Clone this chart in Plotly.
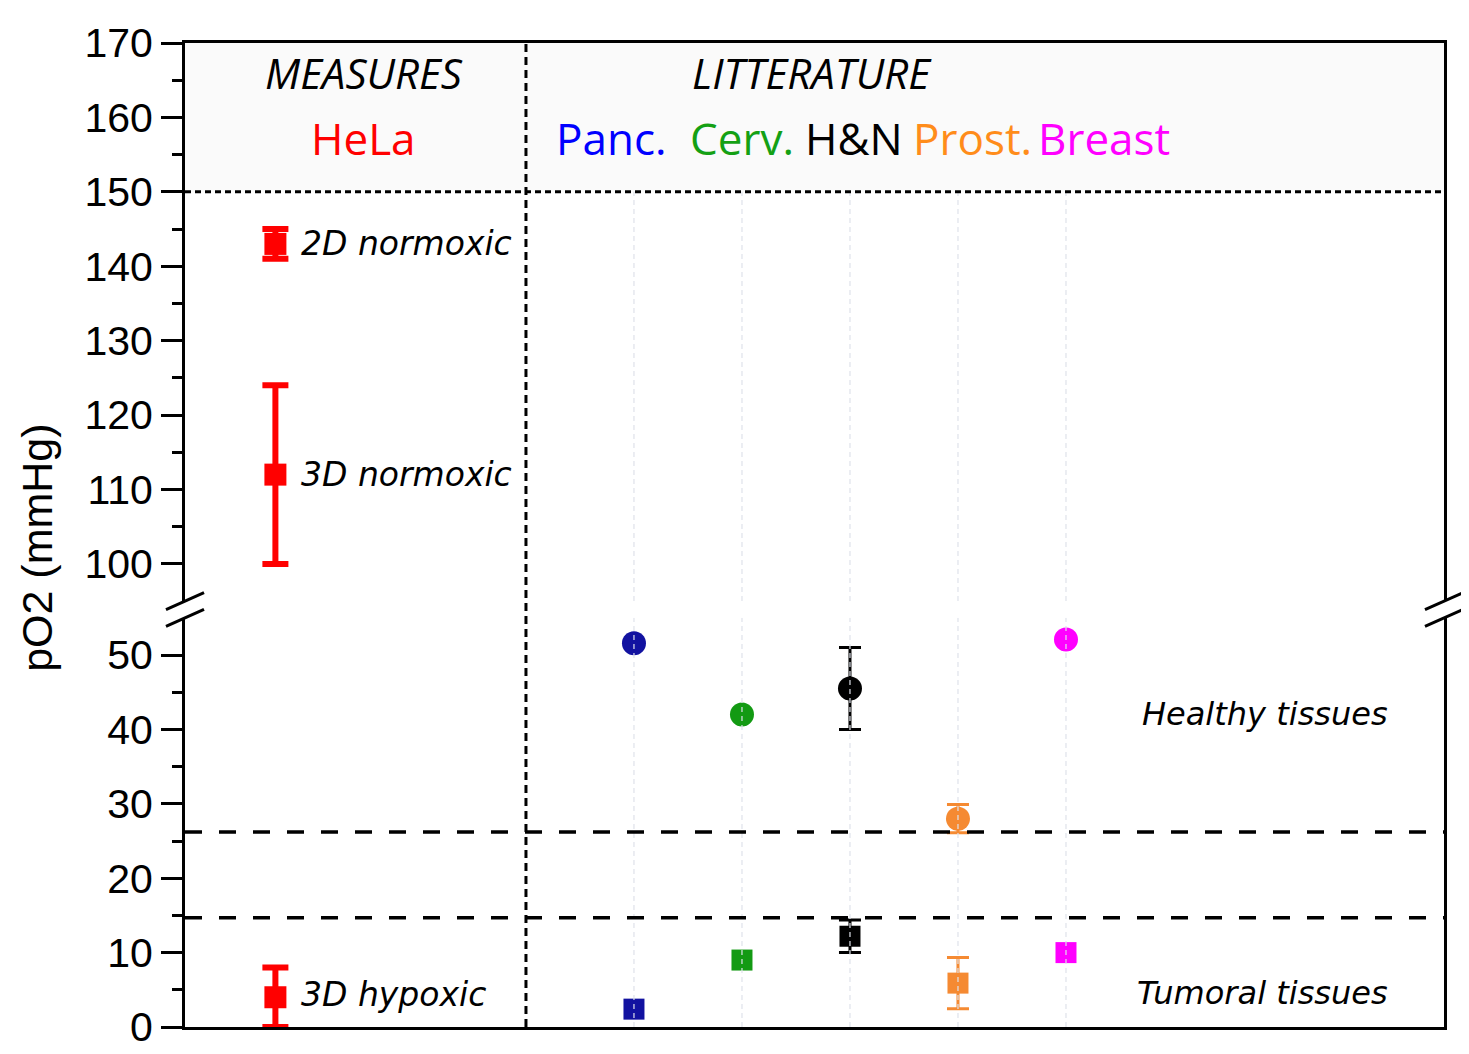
import plotly.graph_objects as go

# ---- data ----
hela_x = -2.32
hela_labels = ["2D normoxic", "3D normoxic", "3D hypoxic"]
hela_values = [143.0, 112.0, 4.0]
hela_errors = [2.0, 12.0, 4.0]

lit_names = ["Panc.", "Cerv.", "H&N", "Prost.", "Breast"]
lit_x = [1, 2, 3, 4, 5]
lit_colors = ["#1212a0", "#139a13", "#000000", "#f58a32", "#ff00ff"]
label_colors = ["#0000ff", "#14a014", "#000000", "#ff8c1a", "#ff00ff"]
healthy_values = [51.6, 42.0, 45.5, 28.0, 52.1]
healthy_errors = [0, 0, 5.5, 1.9, 0]
tumor_values = [2.4, 9.0, 12.2, 5.9, 10.0]
tumor_errors = [0, 0, 2.2, 3.45, 0]

hypoxia_limits = [26.2, 14.7]
upper_limit = 150

lower_ticks = [0, 10, 20, 30, 40, 50]
upper_ticks = [100, 110, 120, 130, 140, 150, 160, 170]

TICK_FONT = dict(family="Liberation Sans, Arial", size=41, color="black")
ITAL = "DejaVu Sans"
RED = "#ff0000"

fig = go.Figure()

# HeLa measures (two on the upper axis, one on the lower)
for lab, v, e in zip(hela_labels, hela_values, hela_errors):
    yax = "y2" if v > 60 else "y"
    fig.add_trace(go.Scatter(
        x=[hela_x], y=[v], yaxis=yax, xaxis="x2" if yax == "y2" else "x",
        mode="markers", marker=dict(symbol="square", size=22, color=RED),
        error_y=dict(type="data", array=[e], color=RED, thickness=6, width=13),
        showlegend=False, hoverinfo="skip",
    ))

# literature: healthy (circles) and tumoral (squares)
for i, name in enumerate(lit_names):
    for vals, errs, sym, size in ((healthy_values, healthy_errors, "circle", 24),
                                  (tumor_values, tumor_errors, "square", 21)):
        err = None
        if errs[i] > 0:
            err = dict(type="data", array=[errs[i]], color=lit_colors[i], thickness=3, width=11)
        fig.add_trace(go.Scatter(
            x=[lit_x[i]], y=[vals[i]], mode="markers",
            marker=dict(symbol=sym, size=size, color=lit_colors[i]),
            error_y=err, showlegend=False, hoverinfo="skip",
        ))

shapes = []
# light header band above 150
shapes.append(dict(type="rect", xref="paper", yref="y2", x0=0, x1=1, y0=upper_limit, y1=170,
                   fillcolor="#fafafa", line=dict(width=0), layer="below"))
# faint vertical guides at the literature positions
for xv in lit_x:
    for yref, y0, y1 in (("y", 0, 55), ("y2", 95, upper_limit)):
        shapes.append(dict(type="line", xref="x", yref=yref, x0=xv, x1=xv, y0=y0, y1=y1,
                           line=dict(color="#dfe2ea", width=1.2, dash="5px,4px"), layer="above"))
# dotted separators
shapes.append(dict(type="line", xref="paper", yref="y2", x0=0, x1=1, y0=upper_limit, y1=upper_limit,
                   line=dict(color="black", width=3, dash="6px,4px")))
shapes.append(dict(type="line", xref="x", yref="paper", x0=0, x1=0, y0=0, y1=1,
                   line=dict(color="black", width=3, dash="8px,5px")))
# dashed hypoxia limits
for h in hypoxia_limits:
    shapes.append(dict(type="line", xref="paper", yref="y", x0=0, x1=1, y0=h, y1=h,
                       line=dict(color="black", width=3.5, dash="17px,17px")))

# axis break marks
lo_top, up_bot = 0.4158, 0.4328
dx, dy = 0.0151, 0.0086
for cx in (0, 1):
    for cy in (lo_top, up_bot):
        shapes.append(dict(type="line", xref="paper", yref="paper",
                           x0=cx - dx, x1=cx + dx, y0=cy - dy, y1=cy + dy,
                           line=dict(color="black", width=3)))

annotations = [
    dict(text="<i>MEASURES</i>", x=-1.50, y=166.0, xref="x", yref="y2", showarrow=False,
         font=dict(family="Open Sans", size=42, color="black")),
    dict(text="<i>LITTERATURE</i>", x=2.648, y=166.0, xref="x", yref="y2", showarrow=False,
         font=dict(family="Open Sans", size=42, color="black")),
    dict(text="HeLa", x=-1.50, y=157.3, xref="x", yref="y2", showarrow=False,
         font=dict(family="Open Sans", size=44, color=RED)),
    dict(text="<i>Healthy tissues</i>", x=6.84, y=42.1, xref="x", yref="y", showarrow=False,
         font=dict(family=ITAL, size=32, color="black")),
    dict(text="<i>Tumoral tissues</i>", x=6.82, y=4.6, xref="x", yref="y", showarrow=False,
         font=dict(family=ITAL, size=32, color="black")),
    dict(text="pO2 (mmHg)", x=-0.1175, y=0.487, xref="paper", yref="paper", showarrow=False,
         xanchor="center", yanchor="middle", textangle=-90,
         font=dict(family="Liberation Sans, Arial", size=43, color="black")),
]
lit_label_x = [0.796, 2.0, 3.037, 4.13, 5.35]
for name, lx, c in zip(lit_names, lit_label_x, label_colors):
    annotations.append(dict(text=name, x=lx, y=157.3, xref="x", yref="y2", showarrow=False,
                            font=dict(family="Open Sans", size=44, color=c)))
for lab, v in zip(hela_labels, hela_values):
    annotations.append(dict(text="<i>%s</i>" % lab, x=hela_x, y=v, xref="x",
                            yref="y2" if v > 60 else "y", xanchor="left", xshift=24,
                            yshift=3 if v < 60 else 0, showarrow=False,
                            font=dict(family=ITAL, size=33, color="black")))

axis_common = dict(showline=True, linecolor="black", linewidth=3, mirror=True,
                   ticks="outside", ticklen=21, tickwidth=3, tickcolor="black",
                   tickfont=TICK_FONT, ticklabeloverflow="allow",
                   showgrid=False, zeroline=False)

# the page adds an 8px body margin, so the plot area is pulled up/left by that much
fig.update_layout(
    width=1469, height=1054,
    margin=dict(l=177, r=33, t=14, b=28),
    paper_bgcolor="white", plot_bgcolor="white",
    xaxis=dict(range=[-3.157, 8.5], anchor="y", showline=True, linecolor="black", linewidth=3,
               showticklabels=False, ticks="", showgrid=False, zeroline=False),
    xaxis2=dict(matches="x", anchor="y2", side="top", overlaying="x", showline=True,
                linecolor="black", linewidth=3, showticklabels=False, ticks="",
                showgrid=False, zeroline=False),
    yaxis=dict(domain=[0, lo_top], range=[0, 55], tickvals=lower_ticks,
               minor=dict(tickvals=[5, 15, 25, 35, 45], ticks="outside", ticklen=10,
                          tickwidth=3, tickcolor="black"),
               **axis_common),
    yaxis2=dict(domain=[up_bot, 1], range=[95, 170], tickvals=upper_ticks, anchor="x",
                minor=dict(tickvals=[105, 115, 125, 135, 145, 155, 165], ticks="outside",
                           ticklen=10, tickwidth=3, tickcolor="black"),
                **axis_common),
    shapes=shapes,
    annotations=annotations,
)

fig.write_html("out.html")
